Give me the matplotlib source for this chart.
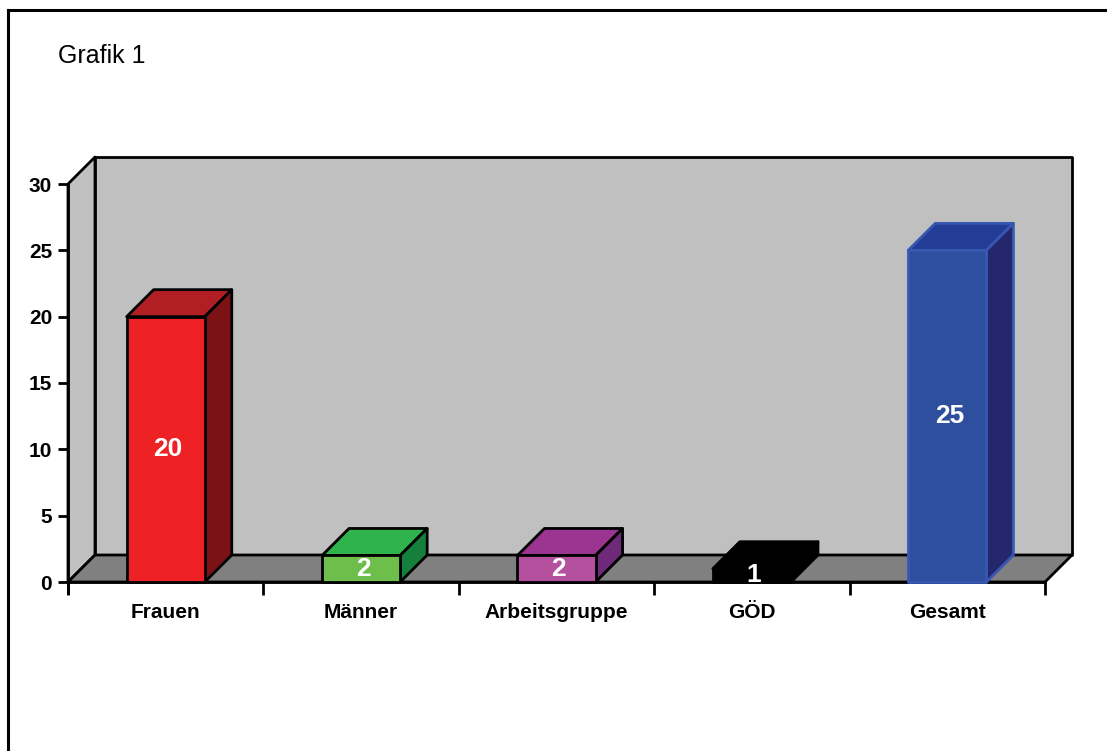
import matplotlib
matplotlib.use("Agg")
import matplotlib.pyplot as plt
from matplotlib.patches import Polygon
from matplotlib.lines import Line2D

plt.rcParams["font.family"] = ["Liberation Sans", "DejaVu Sans"]

categories = ["Frauen", "Männer", "Arbeitsgruppe", "GÖD", "Gesamt"]
values = [20, 2, 2, 1, 25]
front_colors = ["#EE2224", "#6DBE4A", "#B5509F", "#000000", "#2E4F9E"]
top_colors = ["#B11F24", "#2FB34C", "#9C3591", "#000000", "#233C96"]
side_colors = ["#7B1315", "#15803E", "#6E2A78", "#000000", "#24276C"]
edge_colors = ["black", "black", "black", "black", "#3857B2"]
yticks = [0, 5, 10, 15, 20, 25, 30]

W, H = 1107, 751
fig = plt.figure(figsize=(W / 100, H / 100), dpi=100)

# outer frame (only left and top visible)
fig.add_artist(Line2D([7.5 / W, 7.5 / W], [0, 1 - 9.5 / H], color="black", lw=2.2))
fig.add_artist(Line2D([7.5 / W, 1], [1 - 9.5 / H, 1 - 9.5 / H], color="black", lw=2.2))
fig.text(58 / W, 1 - 63 / H, "Grafik 1", fontsize=18, ha="left", va="baseline")

# plot area: front plane x 68..1045, y 582 (0) .. 184 (30); depth 27 px
x0, x1, xr = 68, 1045, 1072
y0, ytop = 582, 157
ax = fig.add_axes([x0 / W, 1 - y0 / H, (xr - x0) / W, (y0 - ytop) / H])
n = len(categories)
DX = 27 / ((x1 - x0) / n)
ymax = 30
DY = 27 / ((y0 - 184) / ymax)
ax.set_xlim(0, n + DX)
ax.set_ylim(0, ymax + DY)
for s in ax.spines.values():
    s.set_visible(False)
ax.patch.set_visible(False)

lw = 2
poly = dict(closed=True, lw=lw, joinstyle="round", clip_on=False)
# side wall, back wall, floor
ax.add_patch(Polygon([(0, 0), (DX, DY), (DX, ymax + DY), (0, ymax)],
                     facecolor="#C0C0C0", edgecolor="black", zorder=1, **poly))
ax.add_patch(Polygon([(DX, DY), (n + DX, DY), (n + DX, ymax + DY), (DX, ymax + DY)],
                     facecolor="#C0C0C0", edgecolor="black", zorder=1, **poly))
ax.add_patch(Polygon([(0, 0), (n, 0), (n + DX, DY), (DX, DY)],
                     facecolor="#808080", edgecolor="black", zorder=1.5, **poly))

# axis lines
ax.plot([0, 0], [-11 / 13.27, ymax], color="black", lw=lw, zorder=2, clip_on=False)
ax.plot([0, n], [0, 0], color="black", lw=lw, zorder=2, clip_on=False)

# bars
pos = [i + 0.5 for i in range(n)]
bw = 0.4
bars = ax.bar(pos, values, width=bw, color=front_colors, edgecolor=edge_colors,
              linewidth=lw, zorder=4, clip_on=False)
for b in bars:
    b.set_joinstyle("round")
for i, v in enumerate(values):
    l, r = pos[i] - bw / 2, pos[i] + bw / 2
    ax.add_patch(Polygon([(l, v), (l + DX, v + DY), (r + DX, v + DY), (r, v)],
                         facecolor=top_colors[i], edgecolor=edge_colors[i], zorder=3, **poly))
    ax.add_patch(Polygon([(r, 0), (r + DX, DY), (r + DX, v + DY), (r, v)],
                         facecolor=side_colors[i], edgecolor=edge_colors[i], zorder=3, **poly))
    ax.text(pos[i] + 0.01, v / 2, str(v), color="white", fontsize=19, fontweight="bold",
            ha="center", va="center", zorder=5)

# ticks
ax.set_yticks(yticks)
ax.set_yticklabels([str(t) for t in yticks], fontsize=15, fontweight="bold")
ax.tick_params(axis="y", length=7.5, width=lw, pad=4, direction="out")
ax.set_xticks(range(n + 1))
ax.set_xticklabels([""] * (n + 1))
ax.set_xticks(pos, minor=True)
ax.set_xticklabels(categories, minor=True, fontsize=15, fontweight="bold")
ax.tick_params(axis="x", which="major", length=9.5, width=lw, direction="out")
ax.tick_params(axis="x", which="minor", length=0, pad=15)

fig.savefig("out.png", dpi=100, facecolor="white")
